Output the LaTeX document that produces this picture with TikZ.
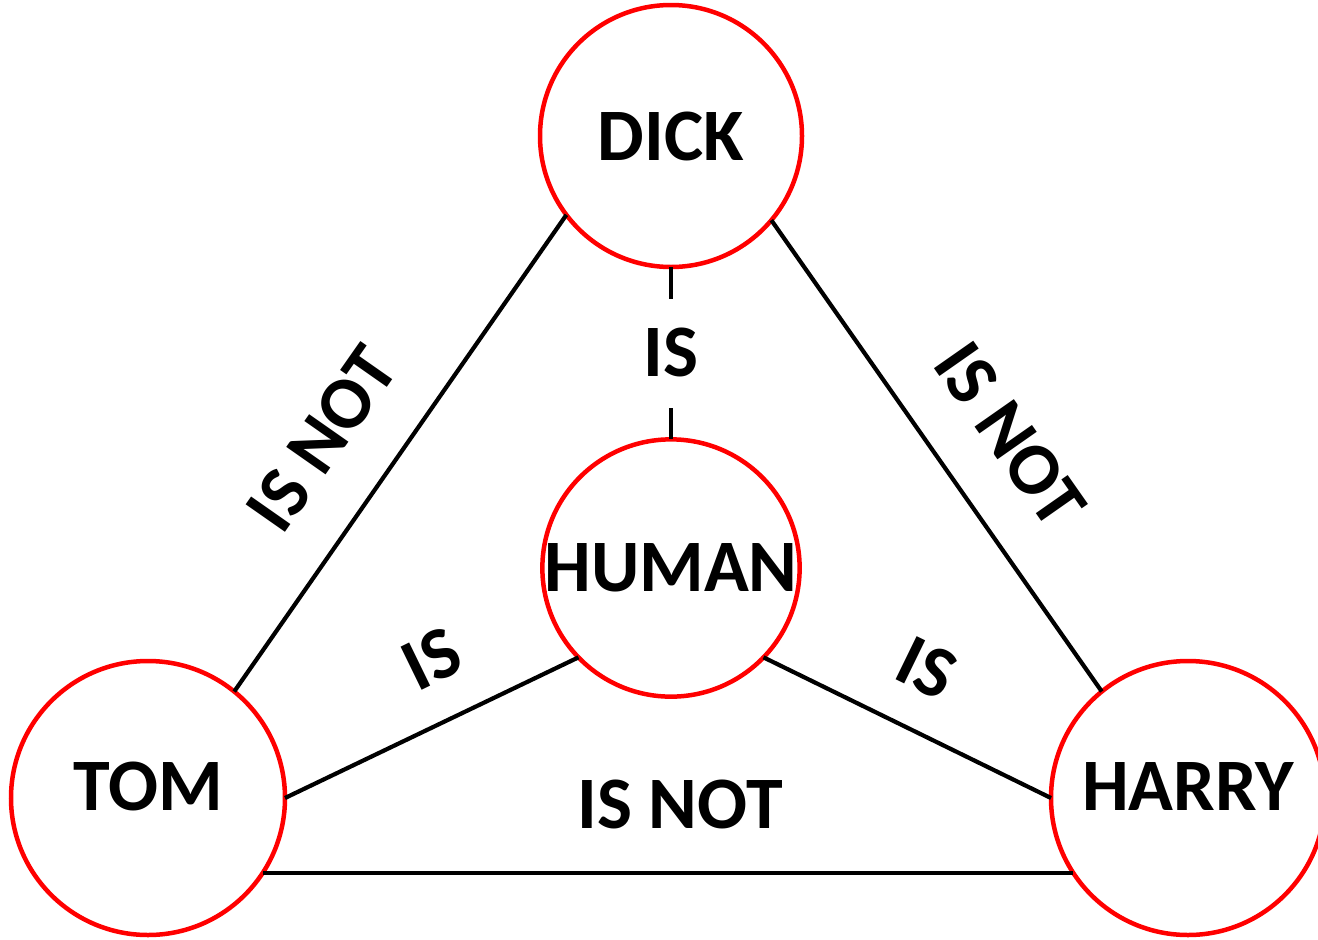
\documentclass[tikz,border=0pt]{standalone}
\usepackage{fontspec}
\setmainfont{Carlito}
\tikzset{
  person/.style={circle, draw=red, line width=4.5pt, inner sep=0pt, outer sep=0pt,
    font=\fontsize{74}{80}\selectfont\bfseries},
  conn/.style={line width=4.2pt, draw=black},
  lbl/.style={font=\fontsize{74}{80}\selectfont\bfseries, inner sep=0pt}
}
\begin{document}
\begin{tikzpicture}[x=1pt,y=-1pt]
\useasboundingbox[fill=white] (0,0) rectangle (1318,940);
\node[person, minimum size=262pt] (dick) at (671,136) {DICK};
\node[person, minimum size=255pt] (human) at (671,568) {HUMAN};
\node[person, minimum size=274pt, text depth=24pt] (tom) at (148,798) {TOM};
\node[person, minimum size=274pt, text depth=24pt] (harry) at (1188,798) {HARRY};
\draw[conn] (dick.217.6) -- (tom.51);
\draw[conn] (dick.320) -- (harry.129.7);
\draw[conn] (human.224.4) -- (tom.0);
\draw[conn] (human.316) -- (harry.180);
\draw[conn] (tom.-33.2) -- (harry.213.2);
\draw[conn] (dick.south) -- node[lbl, fill=white, text height=47pt, text depth=0pt, inner ysep=31pt, inner xsep=4pt] (isdh) {IS} (human.north);
\node[lbl, rotate=55] (isnotdt) at (322,439) {IS NOT};
\node[lbl, rotate=-55] (isnotdh) at (1010,435) {IS NOT};
\node[lbl, rotate=26] (isht) at (432,659) {IS};
\node[lbl, rotate=-26] (ishh) at (927,668) {IS};
\node[lbl] (isnotth) at (680,804) {IS NOT};
\end{tikzpicture}
\end{document}
